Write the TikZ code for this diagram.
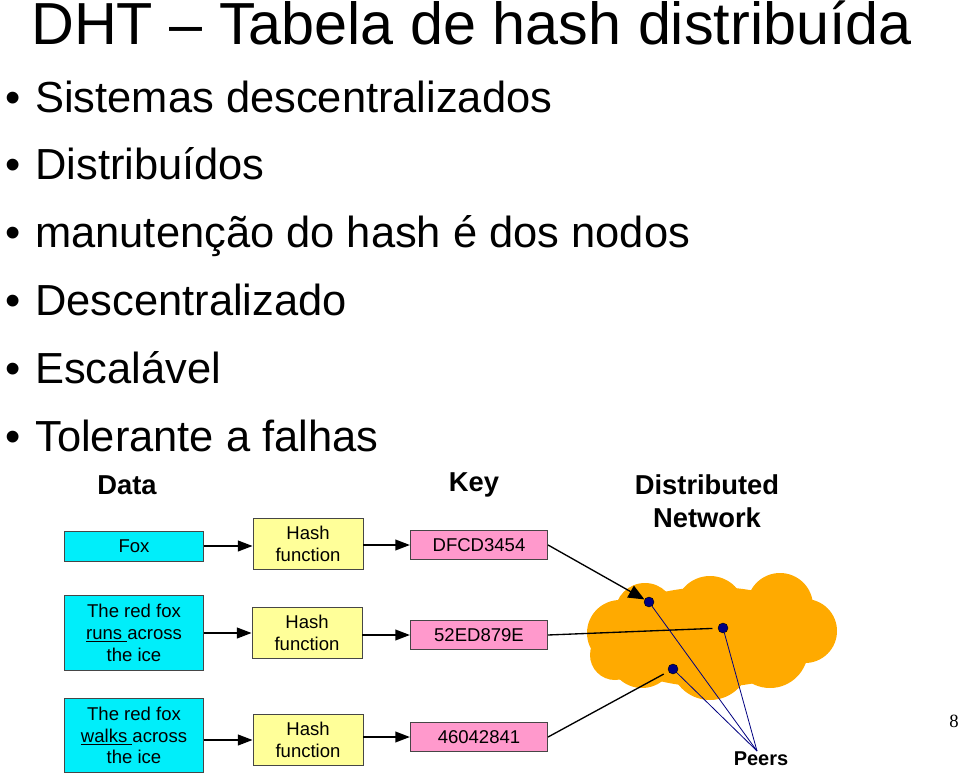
\documentclass[tikz,border=0pt]{standalone}
\usepackage{fontspec}
\setmainfont{Liberation Sans}
\newfontfamily\pagefont{Liberation Serif}
\usepackage{tikz}
\usetikzlibrary{arrows.meta}

\definecolor{datacyan}{RGB}{0,238,250}
\definecolor{hashyellow}{RGB}{255,255,153}
\definecolor{keypink}{RGB}{255,153,204}
\definecolor{cloudorange}{RGB}{255,170,0}
\definecolor{peernavy}{RGB}{0,0,128}
\definecolor{boxline}{RGB}{70,70,70}

\tikzset{
  boxtext/.style={font=\fontsize{13.9}{16.3}\selectfont, align=center},
  databox/.style={draw=boxline, fill=datacyan, line width=0.6pt, minimum width=104pt, inner sep=0pt, boxtext},
  hashbox/.style={draw=boxline, fill=hashyellow, line width=0.6pt, minimum width=82.5pt, minimum height=38pt, inner sep=0pt, boxtext},
  keybox/.style={draw=boxline, fill=keypink, line width=0.6pt, minimum width=103pt, minimum height=22pt, inner sep=0pt, boxtext},
  header/.style={inner sep=0pt, align=center, font=\fontsize{20.5}{24.75}\selectfont\bfseries},
  bulletline/.style={anchor=base west, inner sep=0pt, font=\fontsize{32.6}{38}\selectfont},
  peer/.style={circle, draw=black, line width=0.3pt, fill=peernavy, minimum size=7.5pt, inner sep=0pt},
  flow/.style={-{Triangle[length=11pt,width=8pt]}, line width=1.4pt},
  link/.style={line width=1pt},
  peerlink/.style={draw=peernavy, line width=0.6pt}
}

\begin{document}
\begin{tikzpicture}[x=0.75pt,y=0.75pt,yscale=-1,xscale=1]
\useasboundingbox (0,0) rectangle (960,777);

% Title
\node (title) [anchor=base west, inner sep=0pt, font=\fontsize{44.5}{52}\selectfont] at (31,45) {DHT – Tabela de hash distribuída};

% Bullet list
\node (b1) [bulletline] at (5,112.5) {•};
\node (s1) [bulletline] at (35,112.5) {Sistemas descentralizados};
\node (b2) [bulletline] at (5,180) {•};
\node (s2) [bulletline] at (35,180) {Distribuídos};
\node (b3) [bulletline] at (5,247.6) {•};
\node (s3) [bulletline] at (35,247.6) {manutenção do hash é dos nodos};
\node (b4) [bulletline] at (5,315.4) {•};
\node (s4) [bulletline] at (35,315.4) {Descentralizado};
\node (b5) [bulletline] at (5,383.2) {•};
\node (s5) [bulletline] at (35,383.2) {Escalável};
\node (b6) [bulletline] at (5,451) {•};
\node (s6) [bulletline] at (35,451) {Tolerante a falhas};

% Column headers
\node (hdata) [header] at (127,485) {Data};
\node (hkey) [header] at (474,485) {Key};
\node (hnet) [header] at (707,501) {Distributed\\Network};

%Shape: Cloud
\fill [cloudorange] (712,637) ellipse [x radius=110, y radius=50];
\fill [cloudorange] (645,613) circle [radius=30];
\fill [cloudorange] (710,611) circle [radius=35];
\fill [cloudorange] (780,606) circle [radius=33];
\fill [cloudorange] (805,631) circle [radius=32];
\fill [cloudorange] (770,650) circle [radius=38];
\fill [cloudorange] (710,660) circle [radius=40];
\fill [cloudorange] (642,655) circle [radius=33];
\fill [cloudorange] (620,633) circle [radius=33];
\fill [cloudorange] (615,655) circle [radius=25];

% Data boxes
\node (fox) [databox, minimum height=22.5pt] at (134,546) {Fox};
\node (runs) [databox, minimum height=56pt] at (134,633) {The red fox\\\underline{runs\ }across\\the ice};
\node (walks) [databox, minimum height=56pt] at (134,735.5) {The red fox\\\underline{walks\ }across\\the ice};

% Hash boxes
\node (hash1) [hashbox] at (308,544) {Hash\\function};
\node (hash2) [hashbox] at (307,633) {Hash\\function};
\node (hash3) [hashbox] at (308,740) {Hash\\function};

% Key boxes
\node (key1) [keybox] at (479,545) {DFCD3454};
\node (key2) [keybox] at (479,635) {52ED879E};
\node (key3) [keybox] at (479,737) {46042841};

% Peers
\node (peer1) [peer] at (649,602) {};
\node (peer2) [peer] at (723,628) {};
\node (peer3) [peer] at (673,669) {};
\node (peers) [header, font=\fontsize{15}{18}\selectfont\bfseries] at (761,759) {Peers};
\coordinate (hub) at (757,751);

% Connectors
\draw [flow] (fox.east) -- (hash1.west |- fox.east);
\draw [flow] (runs.east) -- (hash2.west |- runs.east);
\draw [flow] (walks.east |- hash3.west) -- (hash3.west);
\draw [flow] (hash1.east |- key1.west) -- (key1.west);
\draw [flow] (hash2.east |- key2.west) -- (key2.west);
\draw [flow] (hash3.east |- key3.west) -- (key3.west);
\draw [link, -{Triangle[length=12pt,width=10pt]}] (key1.east) -- (peer1);
\draw [link, shorten >=4pt] (key2.east) -- (peer2);
\draw [link, shorten >=4pt] (key3.east) -- (peer3);
\draw [peerlink] (peer1) -- (hub);
\draw [peerlink] (peer2) -- (hub);
\draw [peerlink] (peer3) -- (hub);

% Page number
\node (pagenum) [anchor=base, inner sep=0pt, font=\pagefont\fontsize{14}{16}\selectfont] at (954,727) {8};

\end{tikzpicture}
\end{document}
